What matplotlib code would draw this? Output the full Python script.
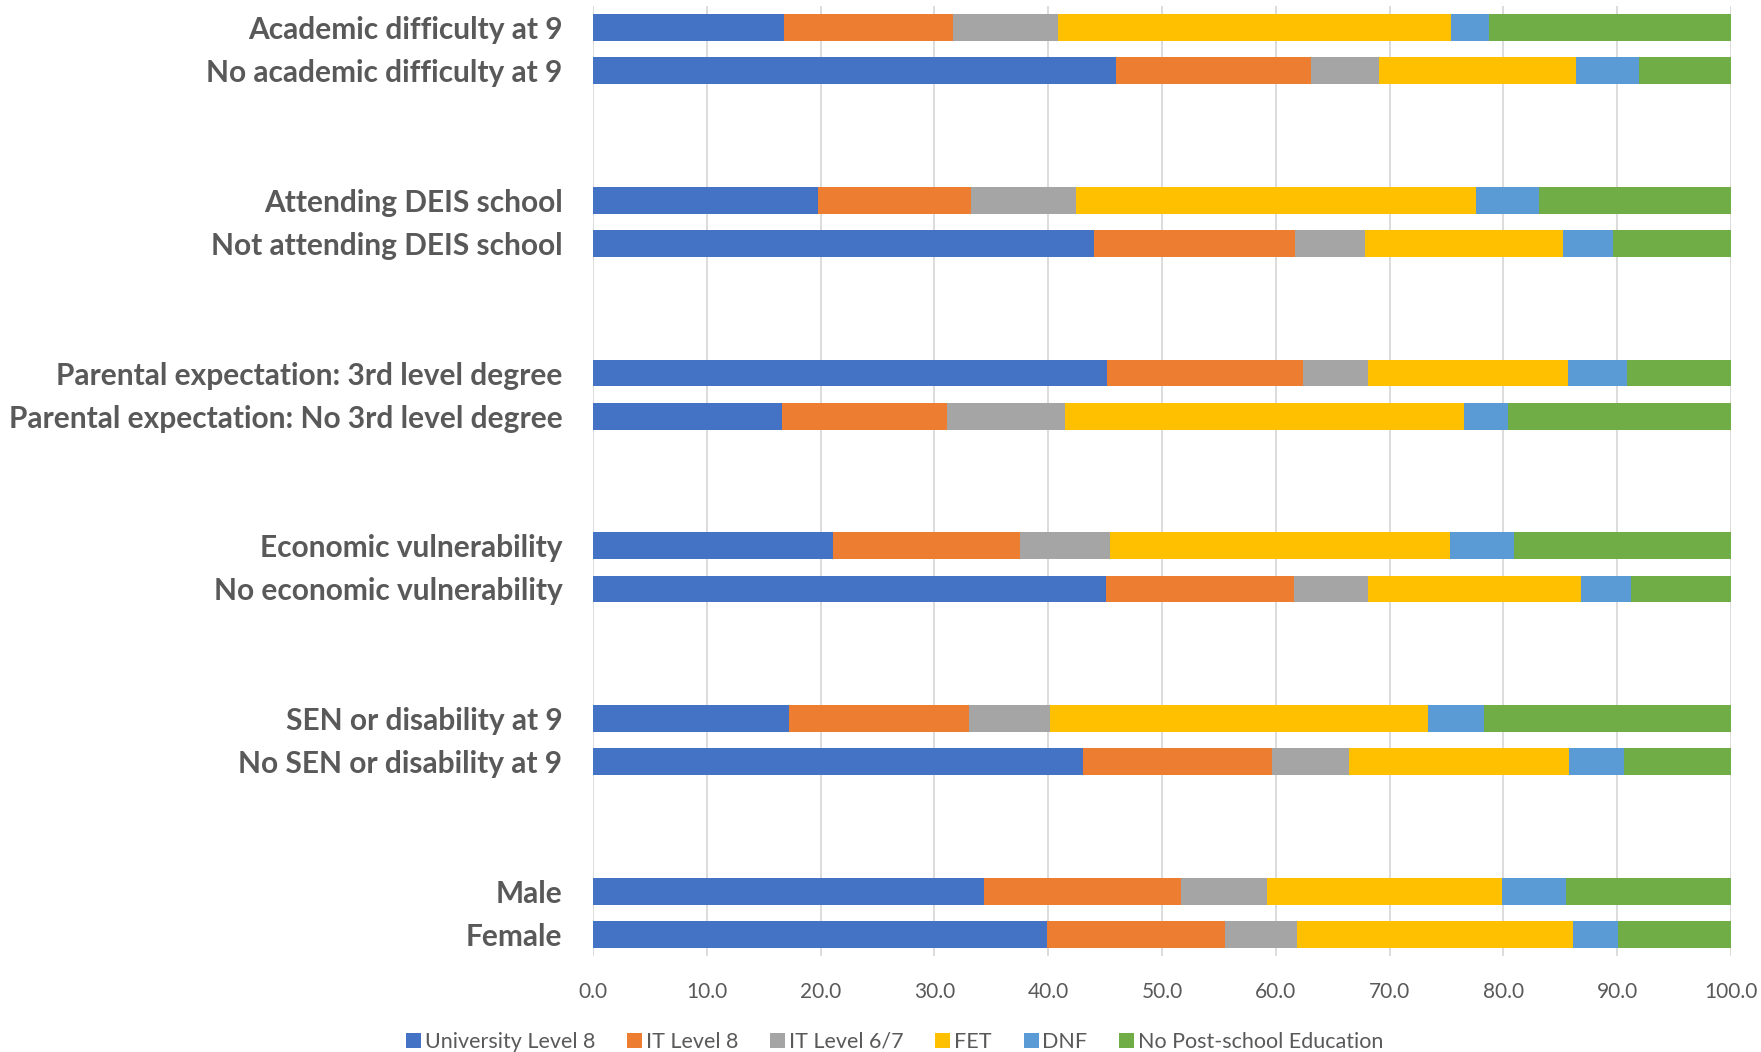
import matplotlib
matplotlib.use("Agg")
import matplotlib.pyplot as plt
from matplotlib.patches import Patch
from matplotlib.ticker import FormatStrFormatter

plt.rcParams['font.family'] = ['Lato', 'DejaVu Sans']

# Category pairs, top to bottom
groups = [
    ["Academic difficulty at 9", "No academic difficulty at 9"],
    ["Attending DEIS school", "Not attending DEIS school"],
    ["Parental expectation: 3rd level degree", "Parental expectation: No 3rd level degree"],
    ["Economic vulnerability", "No economic vulnerability"],
    ["SEN or disability at 9", "No SEN or disability at 9"],
    ["Male", "Female"],
]

series_names = ["University Level 8", "IT Level 8", "IT Level 6/7", "FET", "DNF",
                "No Post-school Education"]
series_colors = ["#4472C4", "#ED7D31", "#A5A5A5", "#FFC000", "#5B9BD5", "#70AD47"]

# Percentages per category (same order as the flattened groups)
university_l8 = [16.8, 46.0, 19.8, 44.0, 45.2, 16.6, 21.1, 45.1, 17.2, 43.1, 34.4, 39.9]
it_l8         = [14.8, 17.1, 13.4, 17.7, 17.2, 14.5, 16.4, 16.5, 15.8, 16.6, 17.3, 15.6]
it_l67        = [ 9.3,  6.0,  9.2,  6.1,  5.7, 10.4,  7.9,  6.5,  7.2,  6.7,  7.5,  6.4]
fet           = [34.5, 17.3, 35.2, 17.4, 17.6, 35.0, 29.9, 18.7, 33.2, 19.4, 20.7, 24.2]
dnf           = [ 3.3,  5.5,  5.5,  4.4,  5.2,  3.9,  5.6,  4.4,  4.9,  4.8,  5.6,  4.0]
no_post       = [21.3,  8.1, 16.9, 10.4,  9.1, 19.6, 19.1,  8.8, 21.7,  9.4, 14.5,  9.9]

series_values = [university_l8, it_l8, it_l67, fet, dnf, no_post]
x_ticks = [0, 10, 20, 30, 40, 50, 60, 70, 80, 90, 100]

# Each pair takes two slots, followed by two empty slots
labels, slots = [], []
for g, pair in enumerate(groups):
    for j, name in enumerate(pair):
        labels.append(name)
        slots.append(4 * g + j)
n_slots = 4 * (len(groups) - 1) + 2

fig = plt.figure(figsize=(17.61, 10.52), dpi=100)
ax = fig.add_axes([593 / 1761, 1 - 956 / 1052, (1731 - 593) / 1761, (956 - 6) / 1052])

text_col = "#595959"
left = [0.0] * len(labels)
for name, vals, col in zip(series_names, series_values, series_colors):
    ax.barh(slots, vals, left=left, height=0.62, color=col, label=name, zorder=3)
    left = [l + v for l, v in zip(left, vals)]

ax.set_ylim(n_slots - 0.5, -0.5)
ax.set_xlim(0, 100)
ax.set_yticks(slots)
ax.set_yticklabels(labels, fontsize=21.5, fontweight='bold', color=text_col)
ax.set_xticks(x_ticks)
ax.xaxis.set_major_formatter(FormatStrFormatter('%.1f'))
ax.tick_params(axis='x', length=0, pad=19, labelsize=15, labelcolor=text_col)
ax.tick_params(axis='y', length=0, pad=22)
ax.grid(axis='x', color="#D9D9D9", linewidth=1.3, zorder=0)
for s in ax.spines.values():
    s.set_visible(False)

handles = [Patch(facecolor=c, edgecolor='none', label=n)
           for n, c in zip(series_names, series_colors)]
fig.legend(handles=handles, loc='center', bbox_to_anchor=(0.508, 1 - 1042 / 1052),
           ncol=6, frameon=False, fontsize=15.5, labelcolor=text_col,
           handlelength=0.7, handleheight=0.7, handletextpad=0.15, columnspacing=1.5)

fig.savefig("out.png", dpi=100, facecolor="white")
